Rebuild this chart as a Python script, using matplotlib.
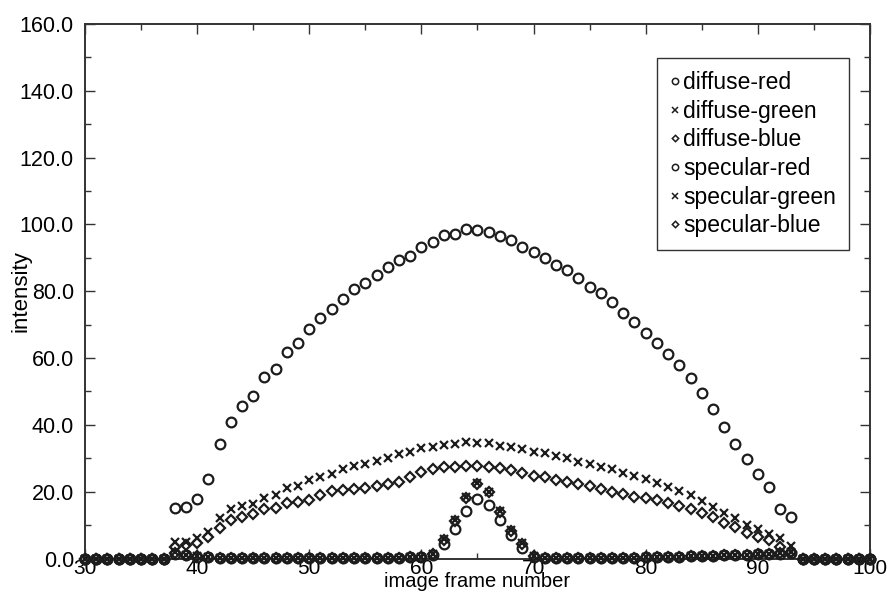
import numpy as np
import matplotlib
matplotlib.use("Agg")
from matplotlib import pyplot as plt
from matplotlib.ticker import MultipleLocator, FormatStrFormatter

# image frames 30..100
frames = list(range(30, 101))

diffuse_red = [0, 0, 0, 0, 0, 0, 0, 0,                                   # 30-37
               15.0, 15.4, 17.8, 23.8, 34.2, 40.8, 45.7, 48.7, 54.3, 56.7,  # 38-47
               61.8, 64.6, 68.6, 71.9, 74.6, 77.8, 80.8, 82.4, 85.0, 87.4,  # 48-57
               89.4, 90.6, 93.4, 94.7, 96.9, 97.2, 98.6, 98.2, 97.6, 96.4,  # 58-67
               95.4, 93.2, 91.9, 89.9, 87.9, 86.3, 84.0, 81.4, 79.5, 76.9,  # 68-77
               73.5, 70.9, 67.5, 64.4, 61.2, 57.8, 54.1, 49.4, 44.7, 39.3,  # 78-87
               34.4, 29.7, 25.3, 21.5, 14.9, 12.3,                          # 88-93
               0, 0, 0, 0, 0, 0, 0]                                         # 94-100

diffuse_green = [0, 0, 0, 0, 0, 0, 0, 0,
                 5.0, 5.0, 6.0, 8.0, 12.0, 14.7, 15.7, 16.3, 18.0, 19.0,
                 21.0, 21.7, 23.5, 24.5, 25.3, 26.7, 27.7, 28.3, 29.3, 30.2,
                 31.3, 32.0, 33.0, 33.3, 34.0, 34.2, 35.0, 34.7, 34.5, 33.7,
                 33.3, 32.7, 32.0, 31.5, 30.7, 30.0, 29.0, 28.3, 27.5, 26.7,
                 25.5, 24.7, 23.7, 22.7, 21.4, 20.2, 19.0, 17.3, 15.5, 13.7,
                 12.0, 10.0, 8.7, 7.3, 6.0, 3.8,
                 0, 0, 0, 0, 0, 0, 0]

diffuse_blue = [0, 0, 0, 0, 0, 0, 0, 0,
                3.5, 4.0, 4.7, 6.5, 9.2, 11.5, 12.5, 13.3, 14.7, 15.0,
                16.5, 17.0, 17.5, 19.0, 20.2, 20.4, 20.7, 21.0, 21.7, 22.2,
                23.0, 24.4, 26.0, 26.7, 27.3, 27.5, 27.7, 27.7, 27.5, 27.0,
                26.5, 25.5, 24.7, 24.4, 23.5, 23.0, 22.3, 21.7, 20.7, 20.0,
                19.3, 18.5, 18.0, 17.4, 16.5, 15.7, 14.7, 13.5, 12.3, 10.5,
                9.3, 7.7, 6.5, 5.5, 3.5, 2.0,
                0, 0, 0, 0, 0, 0, 0]

specular_red = [0, 0, 0, 0, 0, 0, 0, 0,
                1.5, 1.0, 0.6, 0.4, 0.3, 0.3, 0.2, 0.3, 0.2, 0.3,
                0.2, 0.3, 0.2, 0.3, 0.2, 0.3, 0.2, 0.3, 0.2, 0.3,
                0.3, 0.4, 0.5, 1.2, 4.3, 8.7, 14.3, 17.7, 16.0, 11.5,
                7.0, 3.0, 0.5, 0.2, 0.2, 0.2, 0.3, 0.2, 0.3, 0.2,
                0.3, 0.3, 0.4, 0.4, 0.5, 0.6, 0.7, 0.8, 0.9, 1.0,
                1.1, 1.2, 1.3, 1.4, 1.5, 1.6,
                0, 0, 0, 0, 0, 0, 0]

specular_green = [0, 0, 0, 0, 0, 0, 0, 0,
                  1.8, 1.2, 0.7, 0.4, 0.3, 0.3, 0.2, 0.3, 0.2, 0.3,
                  0.2, 0.3, 0.2, 0.3, 0.2, 0.3, 0.2, 0.3, 0.2, 0.3,
                  0.3, 0.4, 0.5, 1.5, 5.7, 11.5, 18.5, 22.5, 20.0, 14.3,
                  8.5, 4.5, 0.8, 0.2, 0.2, 0.2, 0.3, 0.2, 0.3, 0.2,
                  0.3, 0.3, 0.4, 0.4, 0.5, 0.6, 0.7, 0.8, 0.9, 1.0,
                  1.1, 1.2, 1.3, 1.5, 1.7, 2.0,
                  0, 0, 0, 0, 0, 0, 0]

specular_blue = [0, 0, 0, 0, 0, 0, 0, 0,
                 1.6, 1.1, 0.7, 0.4, 0.3, 0.3, 0.2, 0.3, 0.2, 0.3,
                 0.2, 0.3, 0.2, 0.3, 0.2, 0.3, 0.2, 0.3, 0.2, 0.3,
                 0.3, 0.4, 0.5, 1.4, 5.5, 11.3, 18.2, 22.3, 19.8, 14.0,
                 8.3, 4.3, 0.7, 0.2, 0.2, 0.2, 0.3, 0.2, 0.3, 0.2,
                 0.3, 0.3, 0.4, 0.4, 0.5, 0.6, 0.7, 0.8, 0.9, 1.0,
                 1.1, 1.2, 1.3, 1.4, 1.6, 1.8,
                 0, 0, 0, 0, 0, 0, 0]

series = [
    ("diffuse-red", diffuse_red, "o"),
    ("diffuse-green", diffuse_green, "x"),
    ("diffuse-blue", diffuse_blue, "D"),
    ("specular-red", specular_red, "o"),
    ("specular-green", specular_green, "x"),
    ("specular-blue", specular_blue, "D"),
]

plt.rcParams['font.family'] = ['Liberation Sans', 'DejaVu Sans']

ink = "#1c1c1c"
fig = plt.figure(figsize=(8.92, 5.96), dpi=100)
ax = fig.add_axes([0.0953, 0.0629, 0.880, 0.8968])

sizes = {"o": 7.0, "x": 6.0, "D": 5.0}
for label, values, marker in series:
    ax.plot(frames, values, linestyle="none", marker=marker,
            markersize=sizes[marker], markerfacecolor="none",
            markeredgecolor=ink, markeredgewidth=1.6,
            label=label, clip_on=False, zorder=3)

ax.set_xlim(30, 100)
ax.set_ylim(0, 160)
ax.xaxis.set_major_locator(MultipleLocator(10))
ax.xaxis.set_minor_locator(MultipleLocator(5))
ax.yaxis.set_major_locator(MultipleLocator(20))
ax.yaxis.set_minor_locator(MultipleLocator(10))
ax.yaxis.set_major_formatter(FormatStrFormatter("%.1f"))

ax.tick_params(which="both", direction="in", top=True, right=True,
               colors="#333333", labelcolor="black", width=1.0)
ax.tick_params(which="major", length=7, labelsize=15.5)
ax.tick_params(which="minor", length=4)
ax.tick_params(axis="x", pad=0.5, labelsize=15)
ax.tick_params(axis="y", pad=8)
for sp in ax.spines.values():
    sp.set_color("#333333")
    sp.set_linewidth(1.4)

ax.set_xlabel("image frame number", fontsize=14.5)
ax.xaxis.set_label_coords(0.5, -0.026)
ax.set_ylabel("intensity", fontsize=16)
ax.yaxis.set_label_coords(-0.068, 0.5)

leg = ax.legend(loc="upper right", bbox_to_anchor=(0.973, 0.936),
                borderaxespad=0, fontsize=16.5, markerscale=0.65,
                handlelength=0.45, handletextpad=0.15, labelspacing=0.25,
                borderpad=0.55, fancybox=False, framealpha=1,
                edgecolor="#333333")
leg.get_frame().set_linewidth(1.0)
for h in leg.legend_handles:
    h.set_markeredgewidth(1.1)

fig.savefig("out.png", dpi=100)
